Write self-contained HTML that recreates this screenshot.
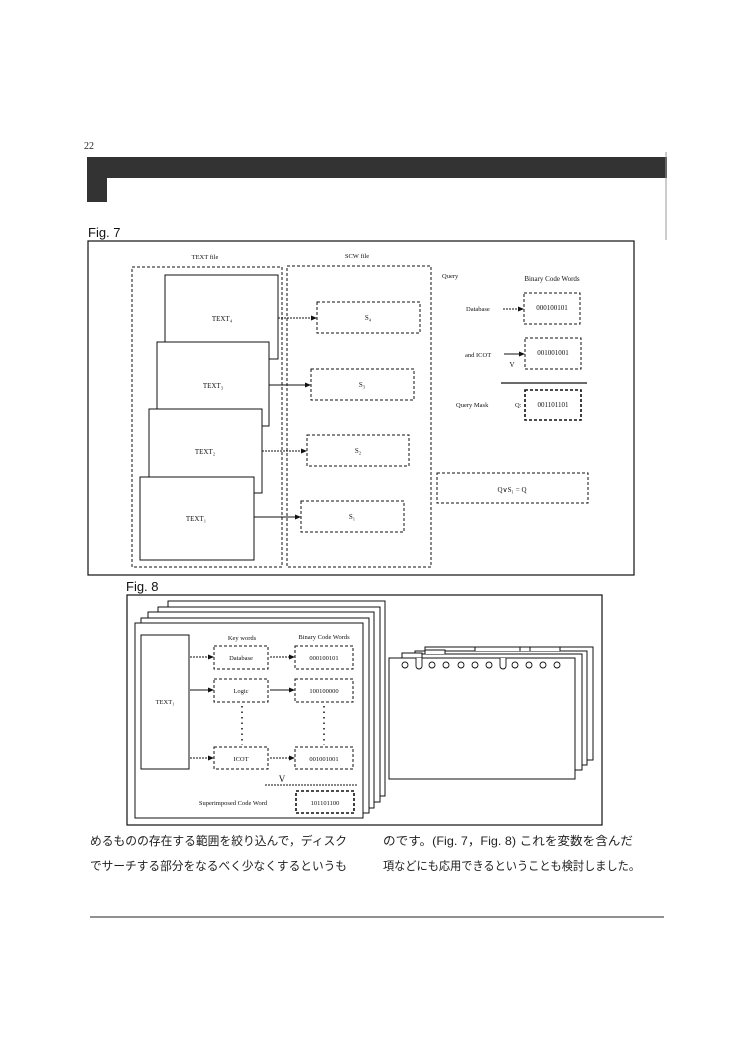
<!DOCTYPE html>
<html><head><meta charset="utf-8"><style>
html,body{margin:0;padding:0;background:#fff;}
svg{display:block;font-family:"Liberation Serif",serif;}
.jp{font-family:"Liberation Sans","Noto Sans CJK JP",sans-serif;font-size:12px;fill:#222;}
</style></head><body>
<svg width="750" height="1054" viewBox="0 0 750 1054" xmlns="http://www.w3.org/2000/svg">
<defs>
<marker id="ar" markerWidth="6" markerHeight="6" refX="5" refY="3" orient="auto"><path d="M0,0.5 L6,3 L0,5.5z" fill="#111"/></marker>
</defs>
<g fill="none" stroke="#111">
<text x="84" y="149" font-size="10" fill="#222" stroke="none">22</text>
<rect x="87" y="157" width="580" height="21" fill="#333" stroke="none"/>
<rect x="87" y="157" width="20" height="45" fill="#333" stroke="none"/>
<line x1="666" y1="152" x2="666" y2="240" stroke="#999" stroke-width="1"/>
<text x="88" y="237" font-family="Liberation Sans" font-size="13" fill="#111" stroke="none">Fig. 7</text>
<rect x="88" y="241" width="546" height="334" stroke-width="1.2"/>
<text x="205" y="259" font-size="6.5" text-anchor="middle" fill="#111" stroke="none">TEXT file</text>
<text x="357" y="258" font-size="6.5" text-anchor="middle" fill="#111" stroke="none">SCW file</text>
<g stroke-dasharray="3,2" stroke-width="1">
<rect x="132" y="267" width="150" height="300"/>
<rect x="287" y="266" width="144" height="301"/>
<rect x="317" y="302" width="103" height="31"/>
<rect x="311" y="369" width="103" height="31"/>
<rect x="307" y="435" width="102" height="31"/>
<rect x="301" y="501" width="103" height="31"/>
<rect x="524" y="293" width="56" height="31"/>
<rect x="525" y="338" width="56" height="31"/>
<rect x="437" y="473" width="151" height="30"/>
</g>
<rect x="525" y="390" width="56" height="30" stroke-dasharray="3,2" stroke-width="1.6"/>
<rect x="165" y="275" width="113" height="84" fill="#fff"/>
<rect x="157" y="342" width="112" height="84" fill="#fff"/>
<rect x="149" y="409" width="113" height="84" fill="#fff"/>
<rect x="140" y="477" width="114" height="83" fill="#fff"/>
<g font-size="7" fill="#111" stroke="none" text-anchor="middle">
<text x="222" y="321">TEXT₄</text><text x="213" y="388">TEXT₃</text>
<text x="205" y="454">TEXT₂</text><text x="196" y="521">TEXT₁</text>
<text x="368" y="320">S₄</text><text x="362" y="387">S₃</text>
<text x="358" y="453">S₂</text><text x="352" y="519">S₁</text>
<text x="552" y="310">000100101</text><text x="553" y="355">001001001</text>
<text x="553" y="407">001101101</text>
<text x="512" y="492">Q∨S₁ = Q</text>
<text x="552" y="281">Binary Code Words</text>
<text x="512" y="367">V</text>
</g>
<g font-size="6.5" fill="#111" stroke="none">
<text x="442" y="278">Query</text>
<text x="466" y="311">Database</text>
<text x="465" y="357">and ICOT</text>
<text x="456" y="407">Query Mask</text>
<text x="515" y="407">Q:</text>
</g>
<g stroke-width="1" marker-end="url(#ar)">
<line x1="278" y1="318" x2="316" y2="318" stroke-dasharray="2,1"/>
<line x1="269" y1="385" x2="310" y2="385"/>
<line x1="262" y1="451" x2="306" y2="451" stroke-dasharray="2,1"/>
<line x1="254" y1="517" x2="300" y2="517"/>
<line x1="503" y1="309" x2="523" y2="309" stroke-dasharray="2,1"/>
<line x1="504" y1="354" x2="524" y2="354"/>
</g>
<line x1="501" y1="383" x2="587" y2="383" stroke-width="1.2"/>

<text x="126" y="591" font-family="Liberation Sans" font-size="13" fill="#111" stroke="none">Fig. 8</text>
<rect x="127" y="595" width="475" height="230" stroke-width="1.2"/>
<rect x="168" y="601" width="217" height="195" fill="#fff"/>
<rect x="158" y="607" width="222" height="195" fill="#fff"/>
<rect x="148" y="612" width="226" height="196" fill="#fff"/>
<rect x="141" y="618" width="228" height="195" fill="#fff"/>
<rect x="135" y="623" width="228" height="195" fill="#fff"/>
<rect x="141" y="635" width="48" height="134"/>
<text x="165" y="704" font-size="6.5" text-anchor="middle" fill="#111" stroke="none">TEXT₁</text>
<g font-size="6.5" fill="#111" stroke="none" text-anchor="middle">
<text x="242" y="640">Key words</text><text x="324" y="639">Binary Code Words</text>
<text x="241" y="660">Database</text><text x="241" y="693">Logic</text><text x="241" y="761">ICOT</text>
<text x="324" y="660">000100101</text><text x="324" y="693">100100000</text>
<text x="324" y="761">001001001</text><text x="325" y="805">101101100</text>
<text x="282" y="782" font-size="9">V</text>
<text x="233" y="805">Superimposed Code Word</text>
</g>
<g stroke-dasharray="3,2">
<rect x="214" y="646" width="54" height="23"/><rect x="214" y="679" width="54" height="23"/><rect x="214" y="747" width="54" height="22"/>
<rect x="295" y="646" width="58" height="23"/><rect x="295" y="679" width="58" height="23"/><rect x="295" y="747" width="58" height="22"/>
</g>
<rect x="296" y="791" width="58" height="22" stroke-dasharray="3,2" stroke-width="1.6"/>
<g stroke-dasharray="1.5,4" stroke-width="1.5">
<line x1="242" y1="706" x2="242" y2="745"/><line x1="324" y1="706" x2="324" y2="745"/>
</g>
<g marker-end="url(#ar)">
<line x1="190" y1="657" x2="213" y2="657" stroke-dasharray="2,1"/>
<line x1="190" y1="690" x2="213" y2="690"/>
<line x1="190" y1="758" x2="213" y2="758" stroke-dasharray="2,1"/>
<line x1="270" y1="657" x2="294" y2="657" stroke-dasharray="2,1"/>
<line x1="270" y1="690" x2="294" y2="690"/>
<line x1="270" y1="758" x2="294" y2="758" stroke-dasharray="2,1"/>
</g>
<line x1="265" y1="785" x2="357" y2="785" stroke-dasharray="2,1"/>

<rect x="425" y="647" width="168" height="113" fill="#fff"/>
<rect x="415" y="651" width="172" height="114" fill="#fff"/>
<rect x="405" y="654" width="177" height="116" fill="#fff"/>
<path d="M402,658 v-5 h20 v5 M425,654 v-4 h20 v4 M475,651 v-4 h55 v4 M520,651 v-4 h40 v4" fill="#fff"/>
<rect x="389" y="658" width="186" height="121" fill="#fff"/>
<g stroke-width="0.9">
<circle cx="405" cy="665" r="3"/><circle cx="432" cy="665" r="3"/><circle cx="446" cy="665" r="3"/>
<circle cx="461" cy="665" r="3"/><circle cx="475" cy="665" r="3"/><circle cx="489" cy="665" r="3"/>
<circle cx="515" cy="665" r="3"/><circle cx="529" cy="665" r="3"/><circle cx="543" cy="665" r="3"/><circle cx="557" cy="665" r="3"/>
<path d="M416,658 v8 a3,3 0 0 0 6,0 v-8" fill="#fff"/>
<path d="M500,658 v8 a3,3 0 0 0 6,0 v-8" fill="#fff"/>
</g>
</g>
<text class="jp" x="90" y="845" textLength="257" lengthAdjust="spacingAndGlyphs">めるものの存在する範囲を絞り込んで，ディスク</text>
<text class="jp" x="90" y="870" textLength="257" lengthAdjust="spacingAndGlyphs">でサーチする部分をなるべく少なくするというも</text>
<text class="jp" x="383" y="845" textLength="250" lengthAdjust="spacingAndGlyphs">のです。(Fig. 7，Fig. 8) これを変数を含んだ</text>
<text class="jp" x="383" y="870" textLength="257" lengthAdjust="spacingAndGlyphs">項などにも応用できるということも検討しました。</text>
<line x1="90" y1="917" x2="664" y2="917" stroke="#222" stroke-width="1"/>
</svg>
</body></html>
